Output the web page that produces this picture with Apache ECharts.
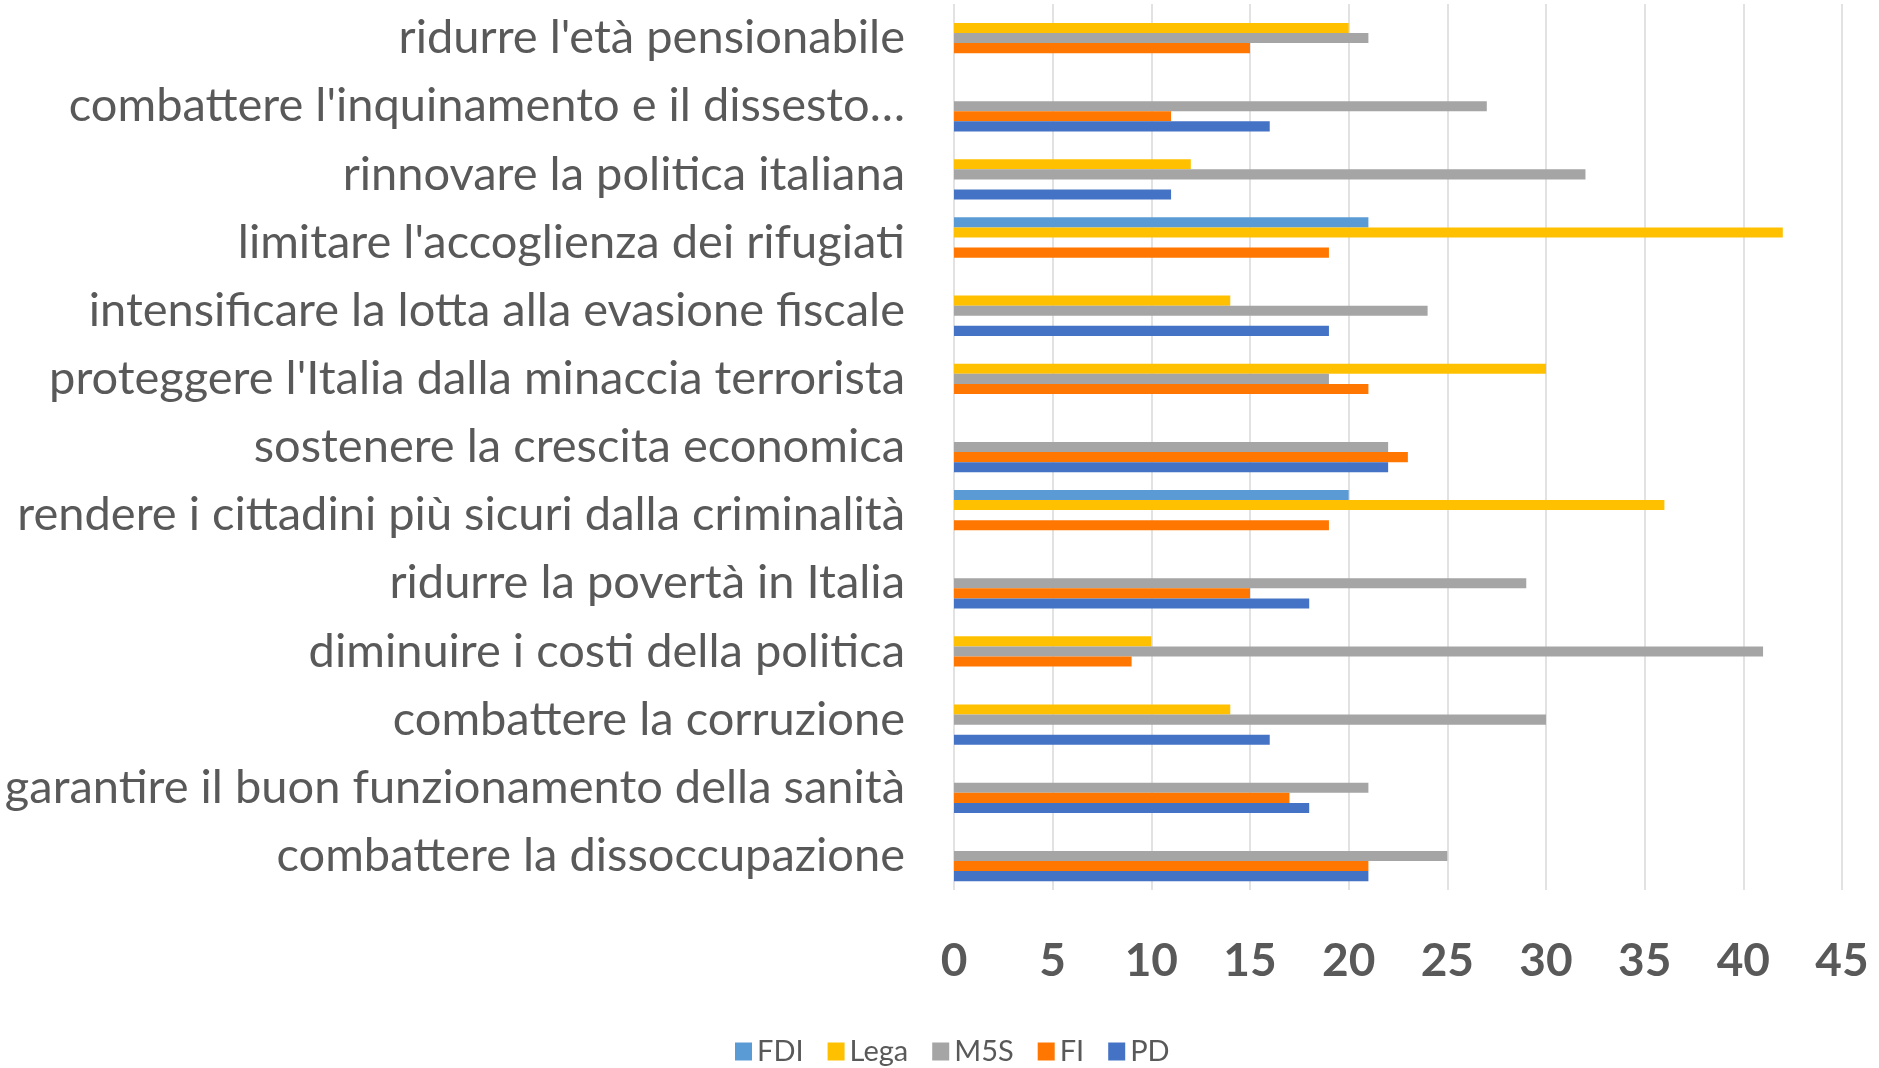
<!DOCTYPE html>
<html>
<head>
<meta charset="utf-8">
<script src="https://cdn.jsdelivr.net/npm/echarts@6/dist/echarts.min.js"></script>
<style>
html,body{margin:0;padding:0;background:#fff;}
#chart{width:1879px;height:1068px;}
</style>
</head>
<body>
<div id="chart"></div>
<script>
// categories, top to bottom as shown
const categories = [
  "ridurre l'età pensionabile",
  "combattere l'inquinamento e il dissesto…",
  "rinnovare la politica italiana",
  "limitare l'accoglienza dei rifugiati",
  "intensificare la lotta alla evasione fiscale",
  "proteggere l'Italia dalla minaccia terrorista",
  "sostenere la crescita economica",
  "rendere i cittadini più sicuri dalla criminalità",
  "ridurre la povertà in Italia",
  "diminuire i costi della politica",
  "combattere la corruzione",
  "garantire il buon funzionamento della sanità",
  "combattere la dissoccupazione"
];
const seriesNames = ["FDI", "Lega", "M5S", "FI", "PD"];
const FDI  = [null, null, null, 21, null, null, null, 20, null, null, null, null, null];
const Lega = [20, null, 12, 42, 14, 30, null, 36, null, 10, 14, null, null];
const M5S  = [21, 27, 32, null, 24, 19, 22, null, 29, 41, 30, 21, 25];
const FI   = [15, 11, null, 19, null, 21, 23, 19, 15, 9, null, 17, 21];
const PD   = [null, 16, 11, null, 19, null, 22, null, 18, null, 16, 18, 21];
const xTicks = [0, 5, 10, 15, 20, 25, 30, 35, 40, 45];

const colors = {FDI: '#5B9BD5', Lega: '#FFC000', M5S: '#A5A5A5', FI: '#FF7700', PD: '#4472C4'};
const values = {FDI, Lega, M5S, FI, PD};

const chart = echarts.init(document.getElementById('chart'));
const series = seriesNames.map(n => ({
  name: n,
  type: 'bar',
  data: values[n],
  itemStyle: {color: colors[n]},
  barGap: '0%',
  barCategoryGap: '26%'
}));

chart.setOption({
  animation: false,
  textStyle: {fontFamily: 'Lato, "Noto Sans", sans-serif'},
  grid: {left: 954, right: 37, top: 4, bottom: 178, containLabel: false},
  legend: {
    data: seriesNames,
    left: 730, top: 1032,
    icon: 'rect',
    itemWidth: 17, itemHeight: 18, itemGap: 24,
    textStyle: {fontSize: 29, color: '#595959', fontFamily: 'Lato, sans-serif'}
  },
  xAxis: {
    type: 'value',
    min: xTicks[0], max: xTicks[xTicks.length - 1], interval: 5,
    axisLine: {show: false},
    axisTick: {show: false},
    splitLine: {show: true, lineStyle: {color: '#D9D9D9', width: 1.5}},
    axisLabel: {fontSize: 46, fontWeight: 'bold', color: '#595959', margin: 48, fontFamily: 'Lato, sans-serif'}
  },
  yAxis: {
    type: 'category',
    data: categories,
    inverse: true,
    axisLine: {show: false},
    axisTick: {show: false},
    axisLabel: {fontSize: 47, color: '#595959', margin: 49, fontFamily: 'Lato, sans-serif'}
  },
  series: series
});
</script>
</body>
</html>
